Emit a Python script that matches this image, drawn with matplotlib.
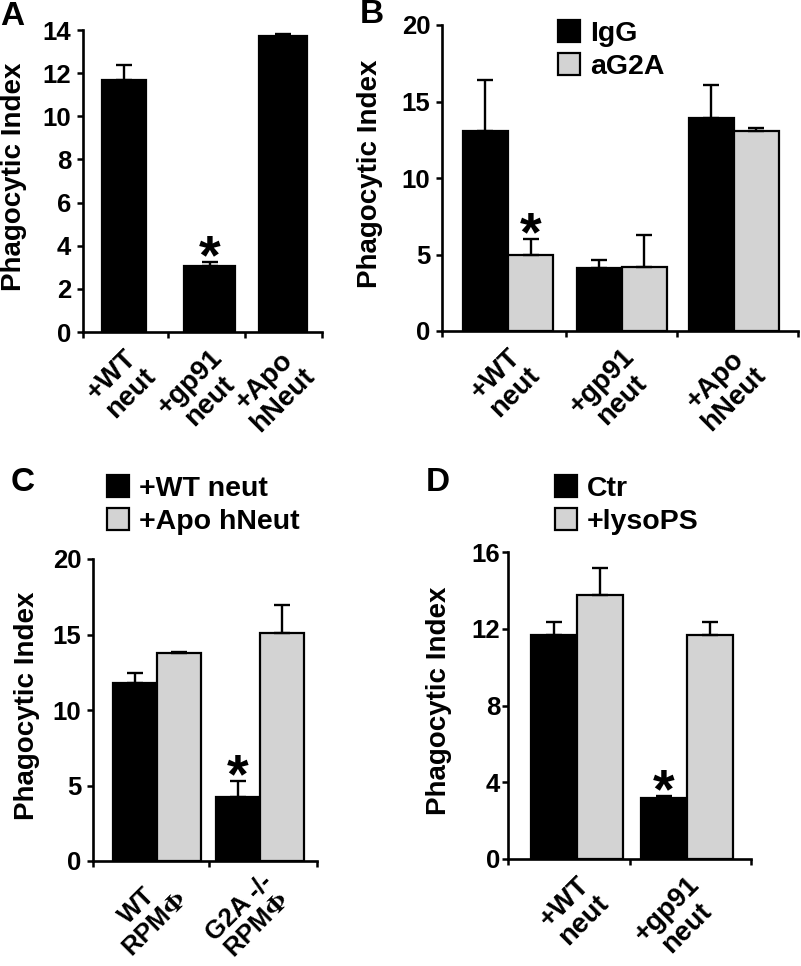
import matplotlib
matplotlib.use("Agg")
import matplotlib.pyplot as plt
from matplotlib.patches import Patch

plt.rcParams["font.family"] = ["Liberation Sans", "DejaVu Sans"]
plt.rcParams["font.weight"] = "bold"
plt.rcParams["axes.labelweight"] = "bold"
plt.rcParams["mathtext.fontset"] = "stix"

GRAY = "#d3d3d3"
W, H = 801, 966

# ---- data -------------------------------------------------------------
a_labels = ["+WT\nneut", "+gp91\nneut", "+Apo\nhNeut"]
a_vals = [11.7, 3.05, 13.7]
a_errs = [0.7, 0.2, 0.1]

b_labels = ["+WT\nneut", "+gp91\nneut", "+Apo\nhNeut"]
b_igg = [13.07, 4.1, 13.9]
b_igg_err = [3.35, 0.55, 2.2]
b_ag2a = [4.95, 4.2, 13.1]
b_ag2a_err = [1.05, 2.1, 0.15]

c_labels = ["WT\nRPM$\\Phi$", "G2A -/-\nRPM$\\Phi$"]
c_wt = [11.77, 4.26]
c_wt_err = [0.7, 1.04]
c_apo = [13.75, 15.12]
c_apo_err = [0.11, 1.85]

d_labels = ["+WT\nneut", "+gp91\nneut"]
d_ctr = [11.69, 3.18]
d_ctr_err = [0.66, 0.08]
d_lyso = [13.77, 11.65]
d_lyso_err = [1.39, 0.7]


def px_axes(fig, left, top, right, bottom):
    return fig.add_axes([left / W, 1 - bottom / H, (right - left) / W, (bottom - top) / H])


def style(ax, ymax, ystep, xmax, xbounds, centers, labels, label_x, ypad=4,
          xsize=20, xpad=9):
    ax.set_ylim(0, ymax)
    ax.set_yticks(range(0, ymax + 1, ystep))
    ax.set_xlim(0, xmax)
    ax.set_xticks(xbounds)
    ax.set_xticklabels([])
    ax.set_xticks(centers, labels, minor=True)
    ax.tick_params(axis="x", which="minor", length=0, pad=xpad)
    for lbl in ax.get_xticklabels(minor=True):
        lbl.set_rotation(45)
        lbl.set_ha("right")
        lbl.set_va("top")
        lbl.set_rotation_mode("anchor")
        lbl.set_multialignment("center")
        lbl.set_fontsize(xsize)
        lbl.set_linespacing(1.05)
    ax.tick_params(axis="both", which="major", direction="out", length=4.5, width=1.8,
                   labelsize=18.5, pad=ypad)
    for s in ["top", "right"]:
        ax.spines[s].set_visible(False)
    for s in ["left", "bottom"]:
        ax.spines[s].set_linewidth(1.9)
    ax.set_ylabel("Phagocytic Index", fontsize=20)
    ax.yaxis.set_label_coords(label_x, 0.515)


def bars(ax, x, vals, errs, color, width):
    ax.bar(x, vals, width=width, color=color, edgecolor="black", linewidth=1.6, zorder=2)
    ax.errorbar(x, vals, yerr=[[0] * len(vals), errs], fmt="none", ecolor="black",
                elinewidth=1.7, capsize=5.5, capthick=1.7, zorder=3)


def star(ax, x, y):
    ax.annotate("*", (x, y), xytext=(0, -8), textcoords="offset points",
                ha="center", va="baseline", fontsize=40, fontweight="bold")


def legend(ax, fig, names, x_px, y_px):
    handles = [Patch(facecolor="black", edgecolor="black", linewidth=1.6),
               Patch(facecolor=GRAY, edgecolor="black", linewidth=1.6)]
    ax.legend(handles, names, loc="upper left", bbox_to_anchor=(x_px / W, 1 - y_px / H),
              bbox_transform=fig.transFigure, frameon=False, fontsize=20.5,
              handlelength=0.78, handleheight=0.8, handletextpad=0.35,
              labelspacing=0.22, borderpad=0, borderaxespad=0)


fig = plt.figure(figsize=(W / 100, H / 100), dpi=100)

# ---- A ----------------------------------------------------------------
axA = px_axes(fig, 83, 30, 322, 332)
a_x = [0.515, 1.59, 2.51]
bars(axA, a_x, a_vals, a_errs, "black", [0.55, 0.64, 0.60])
style(axA, 14, 2, 3, [0, 1.067, 2.03, 3], a_x, a_labels, -0.234)
star(axA, a_x[1], a_vals[1] + a_errs[1])

# ---- B ----------------------------------------------------------------
axB = px_axes(fig, 442, 25, 798, 331)
b_c = [0.556, 1.516, 2.46]
bw = 0.38
bars(axB, [c - bw / 2 for c in b_c], b_igg, b_igg_err, "black", bw)
bars(axB, [c + bw / 2 for c in b_c], b_ag2a, b_ag2a_err, GRAY, bw)
style(axB, 20, 5, 3, [0, 1.045, 1.98, 3], b_c, b_labels, -0.166)
star(axB, b_c[0] + bw / 2, b_ag2a[0] + b_ag2a_err[0])
legend(axB, fig, ["IgG", "aG2A"], 558, 20)

# ---- C ----------------------------------------------------------------
axC = px_axes(fig, 93, 559, 317, 861)
c_c = [0.571, 1.49]
cw = 0.39
bars(axC, [c - cw / 2 for c in c_c], c_wt, c_wt_err, "black", cw)
bars(axC, [c + cw / 2 for c in c_c], c_apo, c_apo_err, GRAY, cw)
style(axC, 20, 5, 2, [0, 1.036, 2], c_c, c_labels, -0.237, xsize=18.5, xpad=6)
star(axC, c_c[1] - cw / 2, c_wt[1] + c_wt_err[1])
legend(axC, fig, ["+WT neut", "+Apo hNeut"], 107, 475)

# ---- D ----------------------------------------------------------------
axD = px_axes(fig, 508, 552, 751, 859)
d_c = [0.568, 1.473]
dw = 0.38
bars(axD, [c - dw / 2 for c in d_c], d_ctr, d_ctr_err, "black", dw)
bars(axD, [c + dw / 2 for c in d_c], d_lyso, d_lyso_err, GRAY, dw)
style(axD, 16, 4, 2, [0, 1, 2], d_c, d_labels, -0.23, ypad=1)
star(axD, d_c[1] - dw / 2, d_ctr[1] + d_ctr_err[1])
legend(axD, fig, ["Ctr", "+lysoPS"], 555, 475)

# ---- panel letters ----------------------------------------------------
for letter, x, y in [("A", 0, 1), ("B", 360, -1), ("C", 11, 467), ("D", 426, 467)]:
    fig.text(x / W, 1 - y / H, letter, fontsize=24, fontweight="bold", va="top", ha="left")

fig.savefig("out.png", dpi=100)
